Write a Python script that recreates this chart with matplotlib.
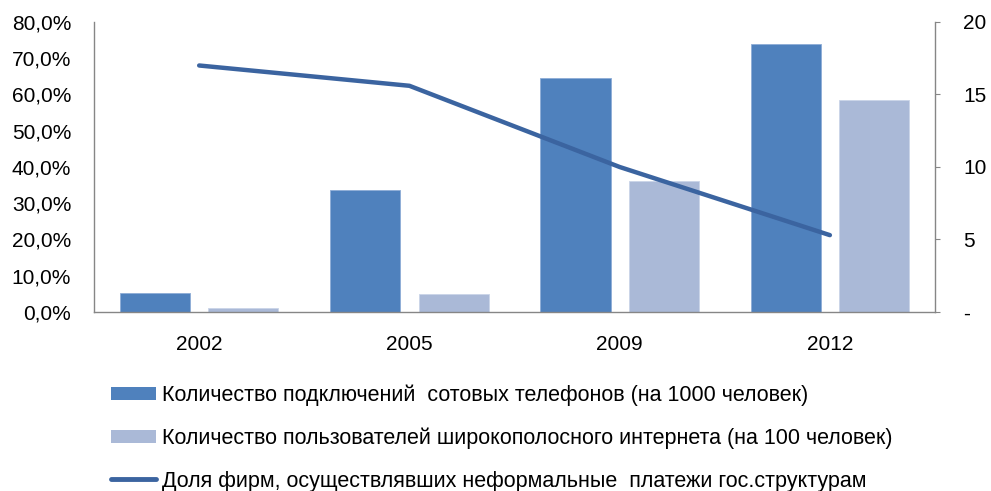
import matplotlib.pyplot as plt
from matplotlib.patches import Patch
from matplotlib.lines import Line2D
from matplotlib.ticker import FuncFormatter
import numpy as np

plt.rcParams["font.family"] = ["Liberation Sans", "DejaVu Sans"]

years = ["2002", "2005", "2009", "2012"]
mobile = [5.2, 33.7, 64.5, 73.8]          # %, left axis
broadband = [1.0, 5.0, 36.2, 58.4]        # %, left axis
informal = [17.0, 15.6, 10.0, 5.3]        # right axis

labels = [
    "Количество подключений  сотовых телефонов (на 1000 человек)",
    "Количество пользователей широкополосного интернета (на 100 человек)",
    "Доля фирм, осуществлявших неформальные  платежи гос.структурам",
]

DARK = "#4F81BD"
LIGHT = "#AAB9D7"
LINE = "#3B64A0"
GRAY = "#868686"

fig = plt.figure(figsize=(9.91, 4.91), dpi=100)
ax = fig.add_axes([0.0949, 0.3646, 0.8486, 0.5906])
ax2 = ax.twinx()

x = np.arange(len(years))
w = 0.333
ax.bar(x - 0.21, mobile, w, color=DARK, edgecolor="#8DACD6", linewidth=0.6, zorder=2)
ax.bar(x + 0.21, broadband, w, color=LIGHT, edgecolor="#CAD5E8", linewidth=0.6, zorder=2)
ax2.plot(x, informal, color=LINE, lw=3.2, solid_capstyle="round", solid_joinstyle="round")

ax.set_xlim(-0.5, 3.5)
ax.set_ylim(0, 80)
ax2.set_ylim(0, 20)
ax.set_yticks(np.arange(0, 81, 10))
ax.yaxis.set_major_formatter(FuncFormatter(lambda v, p: f"{v:.1f}%".replace(".", ",")))
ax2.set_yticks(np.arange(0, 21, 5))
ax2.yaxis.set_major_formatter(FuncFormatter(lambda v, p: "-" if v == 0 else f"{v:.0f}"))
ax.set_xticks(x)
ax.set_xticklabels(years)

for a in (ax, ax2):
    a.spines["top"].set_visible(False)
    for s in ("left", "right", "bottom"):
        a.spines[s].set_color(GRAY)
        a.spines[s].set_linewidth(1.0)
ax.spines["right"].set_visible(False)
ax2.spines["left"].set_visible(False)
ax2.spines["bottom"].set_visible(False)

ax.tick_params(axis="y", length=0, pad=16.5, labelsize=15)
ax.tick_params(axis="x", length=0, pad=16.5, labelsize=15)
ax2.tick_params(axis="y", length=3.6, color=GRAY, pad=16.5, labelsize=15)

handles = [
    Patch(facecolor=DARK, edgecolor="none"),
    Patch(facecolor=LIGHT, edgecolor="none"),
    Line2D([], [], color=LINE, lw=3.5, solid_capstyle="round"),
]
fig.legend(handles, labels, loc="upper left", bbox_to_anchor=(0.112, 0.217),
           frameon=False, fontsize=15.5, labelspacing=1.0, handlelength=2.1,
           handleheight=0.56, handletextpad=0.28, borderpad=0, borderaxespad=0)

fig.savefig("out.png", dpi=100)
